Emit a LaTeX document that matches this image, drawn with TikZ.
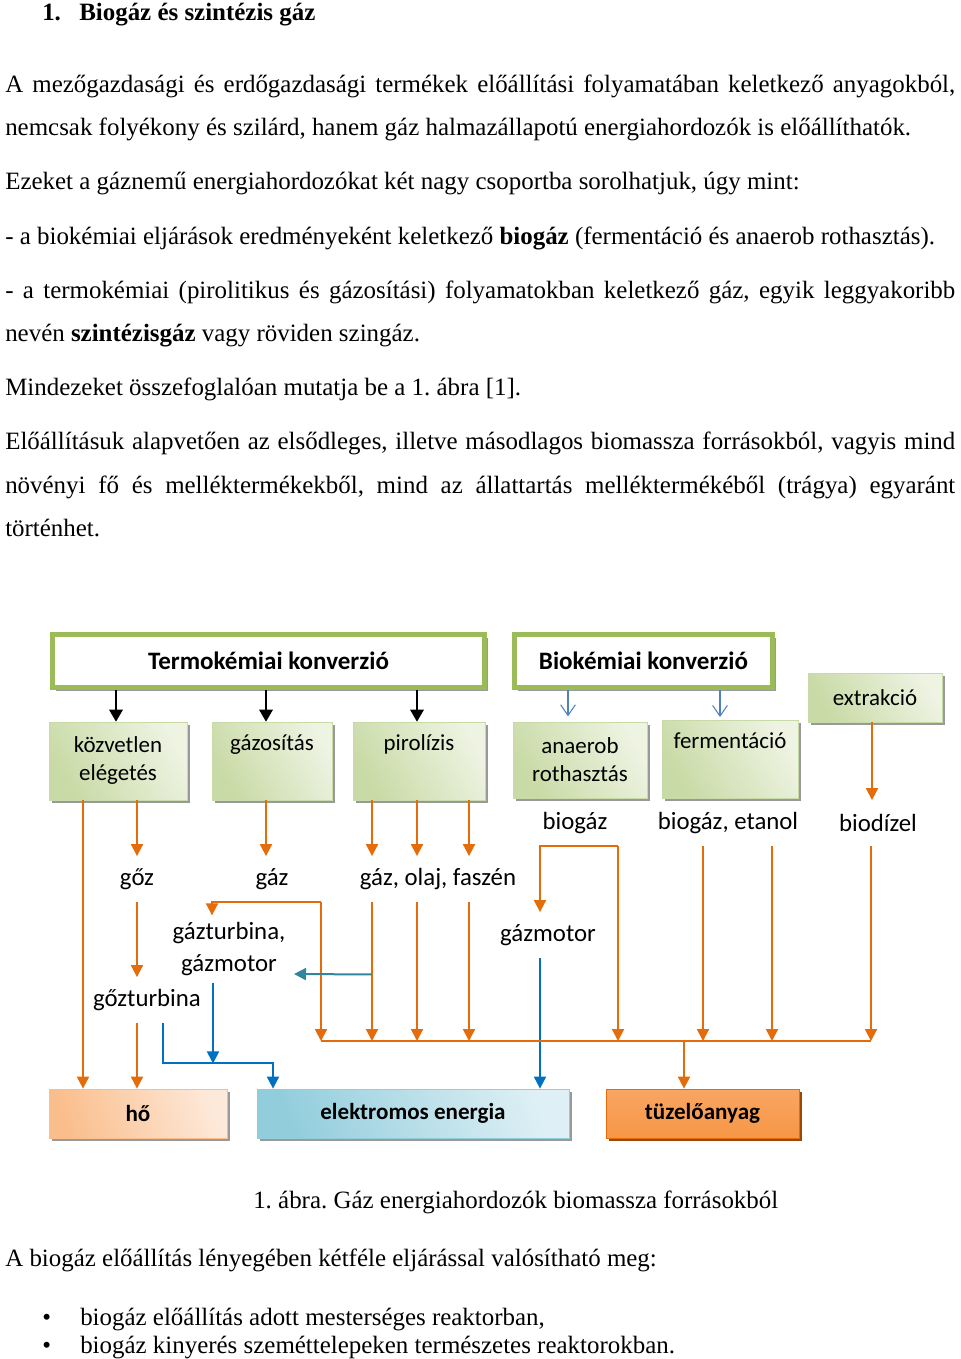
\documentclass[tikz,border=0pt]{standalone}
\usepackage{fontspec}
\setmainfont{Liberation Serif}
\newfontfamily\calibri{Carlito}
\usetikzlibrary{arrows.meta, positioning, calc, shadows}
\frenchspacing

\definecolor{olivegreen}{RGB}{155,187,89}
\definecolor{lightgreen}{RGB}{200,218,165}
\definecolor{palegreen}{RGB}{238,243,226}
\definecolor{darkorange}{RGB}{228,108,10}
\definecolor{midorange}{RGB}{247,150,70}
\definecolor{lightorange}{RGB}{250,190,140}
\definecolor{paleorange}{RGB}{253,233,217}
\definecolor{lightblue}{RGB}{146,205,220}
\definecolor{paleblue}{RGB}{222,240,245}
\definecolor{linkblue}{RGB}{0,112,192}
\definecolor{tealblue}{RGB}{49,133,156}
\definecolor{openblue}{RGB}{79,129,189}
\definecolor{shadowbrown}{RGB}{152,72,7}

\begin{document}
\begin{tikzpicture}[
        x=0.75pt, y=-0.75pt,
        txt/.style={
            anchor=base west,
            inner sep=0pt,
            font=\fontsize{18.7}{22}\selectfont
        },
        boxshadow/.style={
            drop shadow={shadow xshift=2.5pt, shadow yshift=-2.5pt, fill=black!40, opacity=1}
        },
        headbox/.style={
            rectangle,
            draw=olivegreen,
            line width=3.75pt,
            fill=white,
            minimum height=39.75pt,
            font=\calibri\bfseries\fontsize{18.8}{22}\selectfont,
            boxshadow
        },
        procbox/.style={
            rectangle,
            draw=lightgreen,
            line width=0.4pt,
            left color=lightgreen,
            right color=palegreen,
            shading angle=120,
            minimum height=58.5pt,
            align=center,
            font=\calibri\fontsize{17.2}{21}\selectfont,
            boxshadow
        },
        outlbl/.style={
            inner sep=0pt,
            minimum height=34pt,
            align=center,
            font=\calibri\fontsize{18.6}{24}\selectfont
        },
        sinkbox/.style={
            rectangle,
            line width=0.6pt,
            minimum height=36.75pt,
            font=\calibri\bfseries\fontsize{17.3}{21}\selectfont,
            boxshadow
        },
        hobox/.style={sinkbox, draw=lightorange, left color=lightorange, right color=paleorange, shading angle=110},
        elekbox/.style={sinkbox, draw=lightblue, left color=lightblue, right color=paleblue, shading angle=110},
        tuzbox/.style={sinkbox, draw=darkorange, top color=midorange!85!white, bottom color=midorange,
            drop shadow={shadow xshift=2.5pt, shadow yshift=-2.5pt, fill=shadowbrown, opacity=1}},
        oline/.style={draw=darkorange, line width=1.5pt},
        oarr/.style={oline, -{Triangle[width=9pt,length=9pt]}},
        barr/.style={draw=linkblue, line width=1.5pt, -{Triangle[width=9pt,length=9pt]}},
        tarr/.style={draw=tealblue, line width=1.5pt, -{Triangle[width=9pt,length=9pt]}},
        blkarr/.style={draw=black, line width=1.5pt, -{Triangle[width=10pt,length=9pt]}},
        openarr/.style={draw=openblue, line width=0.8pt, -{Straight Barb[width=11pt,length=8pt]}}
    ]
    \useasboundingbox (0,0) rectangle (960,1359);

    % Text above the figure
    \node[txt, font=\bfseries\fontsize{18.7}{22}\selectfont] (sectnum) at (42,21) {1.};
    \node[txt, font=\bfseries\fontsize{18.7}{22}\selectfont] (secttitle) at (79,21) {Biogáz és szintézis gáz};

    \node[txt] (p1a) at (5,93) {\makebox[712.5pt][s]{A mezőgazdasági és erdőgazdasági termékek előállítási folyamatában keletkező anyagokból,}};
    \node[txt] (p1b) at (5,136) {nemcsak folyékony és szilárd, hanem gáz halmazállapotú energiahordozók is előállíthatók.};
    \node[txt] (p2) at (5,190) {Ezeket a gáznemű energiahordozókat két nagy csoportba sorolhatjuk, úgy mint:};
    \node[txt] (p3) at (5,244) {- a biokémiai eljárások eredményeként keletkező \textbf{biogáz} (fermentáció és anaerob rothasztás).};
    \node[txt] (p4a) at (5,298) {\makebox[712.5pt][s]{- a termokémiai (pirolitikus és gázosítási) folyamatokban keletkező gáz, egyik leggyakoribb}};
    \node[txt] (p4b) at (5,341) {nevén \textbf{szintézisgáz} vagy röviden szingáz.};
    \node[txt] (p5) at (5,395) {Mindezeket összefoglalóan mutatja be a 1. ábra [1].};
    \node[txt] (p6a) at (5,449) {\makebox[712.5pt][s]{Előállításuk alapvetően az elsődleges, illetve másodlagos biomassza forrásokból, vagyis mind}};
    \node[txt] (p6b) at (5,493) {\makebox[712.5pt][s]{növényi fő és melléktermékekből, mind az állattartás melléktermékéből (trágya) egyaránt}};
    \node[txt] (p6c) at (5,536) {történhet.};

    % Conversion headers
    \node[headbox, minimum width=324pt] (termo) at (268.5,661) {Termokémiai konverzió};
    \node[headbox, minimum width=193.5pt] (bio) at (643.5,661) {Biokémiai konverzió};
    \node[procbox, minimum width=100.5pt, minimum height=36.75pt] (extr) at (875,697.5) {extrakció};

    % Processes
    \node[procbox, minimum width=103.5pt] (kozv) at (118,761) {közvetlen\\elégetés};
    \node[procbox, minimum width=90pt] (gazos) at (272,761) {gázosítás\\\strut};
    \node[procbox, minimum width=99pt] (piro) at (419,761) {pirolízis\\\strut};
    \node[procbox, minimum width=100.5pt, minimum height=57pt] (anaer) at (580,760) {anaerob\\rothasztás};
    \node[procbox, minimum width=102pt] (ferm) at (730,759) {fermentáció\\\strut};

    % Products
    \node[outlbl] (goz) at (137,879) {gőz};
    \node[outlbl] (gaz) at (272,879) {gáz};
    \node[outlbl] (gof) at (438,879) {gáz, olaj, faszén};
    \node[outlbl] (biog) at (575,823) {biogáz};
    \node[outlbl] (bioe) at (728,823) {biogáz, etanol};
    \node[outlbl] (biod) at (878,823) {biodízel};
    \node[outlbl] (gozt) at (147,1000) {gőzturbina};
    \node[outlbl, inner ysep=5pt] (gturb) at (229,949) {gázturbina,\\gázmotor};
    \node[outlbl] (gmot) at (548,935) {gázmotor};

    % Final forms
    \node[hobox, minimum width=133.5pt] (ho) at (138,1113.5) {hő};
    \node[elekbox, minimum width=234pt] (elek) at (413,1113.5) {elektromos energia};
    \node[tuzbox, minimum width=144.75pt] (tuz) at (702.5,1113.5) {tüzelőanyag};

    \coordinate (busw) at (321,1041);
    \coordinate (buse) at (871,1041);

    % Header arrows
    \draw[blkarr] ([xshift=-1.5pt,yshift=24pt]kozv.north) -- ([xshift=-1.5pt]kozv.north);
    \draw[blkarr] ([xshift=-4.5pt,yshift=24pt]gazos.north) -- ([xshift=-4.5pt]gazos.north);
    \draw[blkarr] ([xshift=-1.5pt,yshift=24pt]piro.north) -- ([xshift=-1.5pt]piro.north);
    \draw[openarr] ([xshift=-9pt,yshift=24pt]anaer.north) -- ([xshift=-9pt,yshift=4pt]anaer.north);
    \draw[openarr] ([xshift=-7.5pt,yshift=22.5pt]ferm.north) -- ([xshift=-7.5pt,yshift=2pt]ferm.north);
    \draw[oarr] ([xshift=-2.25pt]extr.south) -- ([xshift=-4.5pt]biod.north);

    % Direct combustion
    \draw[oarr] ([xshift=-26.25pt]kozv.south) -- ([xshift=-41.25pt]ho.north);
    \draw[oarr] ([xshift=14.25pt]kozv.south) -- (goz.north);
    \draw[oarr] (goz.south) -- ([xshift=-7.5pt]gozt.north);
    \draw[oarr] ([xshift=-7.5pt]gozt.south) -- ([xshift=-0.75pt]ho.north);
    \draw[barr] ([xshift=12pt]gozt.south) -- ++(0,40.5) coordinate (bjoin) -| ([xshift=-105pt]elek.north);

    % Gasification
    \draw[oarr] ([xshift=-4.5pt]gazos.south) -- ([xshift=-4.5pt]gaz.north);
    \draw[oarr] ([xshift=36.75pt]gaz.south) -| ([xshift=-12.75pt]gturb.north);
    \draw[oarr] ([xshift=36.75pt]gaz.south) -- (busw);
    \draw[barr] ([xshift=-12pt]gturb.south) -- ([xshift=-12pt]gturb.south |- bjoin);

    % Pyrolysis
    \foreach \dx/\gx in {-35.25/-49.5, -1.5/-15.75, 37.5/23.25} {
        \draw[oarr] ([xshift=\dx pt]piro.south) -- ([xshift=\gx pt]gof.north);
        \draw[oarr] ([xshift=\gx pt]gof.south) -- ([xshift=\gx pt]gof.south |- busw);
    }
    \draw[tarr] ([xshift=-49.5pt,yshift=-54.4pt]gof.south) -- ([xshift=48.75pt,yshift=-18.75pt]gturb.center);

    % Biochemical products
    \draw[oarr] ([xshift=32.25pt]biog.south) -| ([xshift=-6pt]gmot.north);
    \draw[oarr] ([xshift=32.25pt]biog.south) -- ([xshift=32.25pt]biog.south |- busw);
    \draw[barr] ([xshift=-6pt]gmot.south) -- ([xshift=-6pt]gmot.south |- elek.north);
    \draw[oarr] ([xshift=-18.75pt]bioe.south) -- ([xshift=-18.75pt]bioe.south |- busw);
    \draw[oarr] ([xshift=33pt]bioe.south) -- ([xshift=33pt]bioe.south |- busw);
    \draw[oarr] ([xshift=-5.25pt]biod.south) -- (buse);

    % Fuel bus
    \draw[oline] (busw) -- (buse);
    \draw[oarr] ([xshift=-13.875pt]tuz.north |- busw) -- ([xshift=-13.875pt]tuz.north);

    % Text below the figure
    \node[txt] (caption) at (253,1208) {1. ábra. Gáz energiahordozók biomassza forrásokból};
    \node[txt] (p7) at (5,1266) {A biogáz előállítás lényegében kétféle eljárással valósítható meg:};
    \node[txt] (dot1) at (42,1325) {\textbullet};
    \node[txt] (b1) at (80,1325) {biogáz előállítás adott mesterséges reaktorban,};
    \node[txt] (dot2) at (42,1353) {\textbullet};
    \node[txt] (b2) at (80,1353) {biogáz kinyerés szeméttelepeken természetes reaktorokban.};

\end{tikzpicture}
\end{document}
